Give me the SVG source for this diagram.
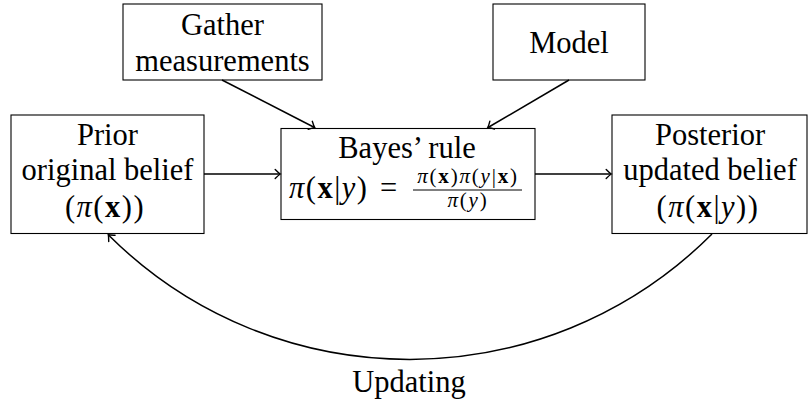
<svg xmlns="http://www.w3.org/2000/svg" width="809" height="403" viewBox="0 0 809 403">
<style>
.box{fill:#fff;stroke:#000;stroke-width:1.1}
.t{font-size:30.5px;fill:#000;text-anchor:middle}
.s{font-size:21px;fill:#000;text-anchor:middle;letter-spacing:1.8px}
.m{font-size:30.5px;fill:#000;letter-spacing:1.5px}
.mt{letter-spacing:1.5px}
.i{font-style:italic}
.b{font-weight:bold}
.c{fill:none;stroke:#000;stroke-width:1.5}
</style>
<defs>
<marker id="ah" markerUnits="userSpaceOnUse" markerWidth="14" markerHeight="14" refX="0" refY="0" viewBox="-7 -7 14 14" orient="auto" overflow="visible">
<path d="M-4.8,-4.5 Q-1.3,-0.9 0.3,0 Q-1.3,0.9 -4.8,4.5" fill="none" stroke="#000" stroke-width="1.4" stroke-linecap="round"/>
</marker>
</defs>
<g font-family="Liberation Serif, DejaVu Serif, serif">
<g id="gather">
<rect class="box" x="123" y="4" width="199" height="76"/>
<text class="t" x="222.5" y="35">Gather</text>
<text class="t" x="222.5" y="71">measurements</text>
</g>
<g id="model">
<rect class="box" x="493" y="4" width="152" height="76"/>
<text class="t" x="569" y="53">Model</text>
</g>
<g id="prior">
<rect class="box" x="11" y="115" width="193" height="118.5"/>
<text class="t" x="107.5" y="145">Prior</text>
<text class="t" x="107.5" y="180">original belief</text>
<text class="t mt" x="105" y="216.5">(<tspan class="i">π</tspan>(<tspan class="b">x</tspan>))</text>
</g>
<g id="bayes">
<rect class="box" x="281" y="128.5" width="254" height="91"/>
<text class="t" x="407" y="158">Bayes’ rule</text>
<text class="m" x="289" y="198"><tspan class="i">π</tspan>(<tspan class="b">x</tspan>|<tspan class="i">y</tspan>)</text>
<text class="m" x="380" y="198">=</text>
<text class="s" x="468" y="183"><tspan class="i">π</tspan>(<tspan class="b">x</tspan>)<tspan class="i">π</tspan>(<tspan class="i">y</tspan>|<tspan class="b">x</tspan>)</text>
<line x1="413" y1="190" x2="522" y2="190" stroke="#000" stroke-width="1"/>
<text class="s" x="468" y="207"><tspan class="i">π</tspan>(<tspan class="i">y</tspan>)</text>
</g>
<g id="posterior">
<rect class="box" x="612" y="115" width="195" height="118.5"/>
<text class="t" x="710" y="145">Posterior</text>
<text class="t" x="710" y="180">updated belief</text>
<text class="t mt" x="708" y="216.5">(<tspan class="i">π</tspan>(<tspan class="b">x</tspan>|<tspan class="i">y</tspan>))</text>
</g>
<g id="connectors">
<line class="c" x1="222" y1="80" x2="314.5" y2="127.5" marker-end="url(#ah)"/>
<line class="c" x1="569" y1="80" x2="488" y2="127.5" marker-end="url(#ah)"/>
<line class="c" x1="204" y1="174" x2="280" y2="174" marker-end="url(#ah)"/>
<line class="c" x1="535" y1="174" x2="611" y2="174" marker-end="url(#ah)"/>
<path class="c" d="M712,234 C545,401 275,401 108.5,235" marker-end="url(#ah)"/>
<text class="t" x="409" y="392">Updating</text>
</g>
</g>
</svg>
